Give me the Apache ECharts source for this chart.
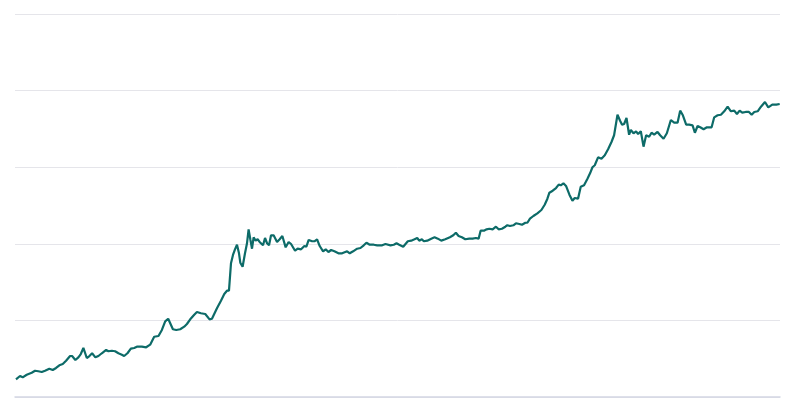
<!DOCTYPE html>
<html>
<head>
<meta charset="utf-8">
<script src="https://cdn.jsdelivr.net/npm/echarts@6/dist/echarts.min.js"></script>
<style>
html,body{margin:0;padding:0;background:#fff;}
#main{width:800px;height:410px;}
</style>
</head>
<body>
<div id="main"></div>
<script>
// time steps (x) and values (y)
var xs = [1,5,7.7,11.7,16.7,20,23.3,26.7,30,34.3,37.7,41,44.3,47.7,51,55,57,60.3,63.3,65.7,
    68.3,71.7,74.3,77,80.3,83.3,86.7,91,93.3,96.7,100,103.3,106.7,109,112.3,115.7,119,121.7,126.7,131,
    135,139,143.3,146.7,150,153,157.7,161,165,169,171.7,175,179,181.7,185.7,190,194.3,196.7,201.7,205.7,
    209,211.7,213.7,215.7,217.7,219.7,221.7,223.7,225,227.3,229.7,231.7,233.3,235,236.7,238.3,240.3,242.3,244.3,245.7,
    247.7,249.7,251.7,253.7,255.7,258.3,261.7,264.3,267,270.3,273.3,275.7,279.7,282.3,285.7,289,291,293.3,296.7,299,
    301.7,304.3,307.7,310.3,313,315.7,319,323,326.7,331.7,334.3,337.7,341.7,345,348.3,351,354.3,358.3,361.7,366.7,
    370,375,378.3,381,383.7,387.7,392.3,395.7,399,401.7,403.7,406.3,408.3,411.7,415.7,419,422.3,425.7,429.7,434.3,
    437.7,440.3,443,446.3,449.7,453.7,457,460.3,463,465,468.3,471,473.7,477,480.3,483,486.3,489.7,491.7,494.3,
    497.7,500.3,503.7,506.3,509.7,511.7,514.3,517.7,521.7,525.7,529,531.7,533.7,537,540.3,543,545,547.7,550.3,553.7,
    556.7,559,562.3,565,568.3,571.7,574.3,576.7,579,582.3,585.7,589,592.3,595.7,598.3,599.7,601.7,604.3,606.3,608.3,
    610.7,613.3,615,617.7,620.3,622.3,625,627.7,630.3,633.3,635.7,638.3,641.7,644.3,647.7,651,655,658.3,661.7,664.3,
    667,670.3,673.3,676.7,679,681.7,684.3,687.7,691,695.7,698.3,701.7,705,708.3,711.7,715,718.3,721,723.7,726.3,
    729.7,733,735.7,738.3,741.7,745,749,752.3,756.3,760.3,763.7];
var ys = [23.1,27.4,25.7,29.1,31.7,34.3,33.6,32.6,34.3,36.9,35.2,37.9,41.4,43.1,47.4,53.5,53.5,48.3,51.8,56.1,
    64.0,50.9,53.5,57.1,51.8,53.5,57.1,61.4,59.7,60.4,59.7,57.1,55.2,53.5,57.1,63.1,64.0,65.7,65.7,64.9,
    68.3,78.7,79.6,87.5,98.8,102.2,88.4,87.5,88.4,91.8,95.3,101.4,107.4,111.0,109.3,108.4,101.4,102.2,115.8,125.7,
    134.5,138.8,138.8,174.5,185.4,192.8,198.8,187.6,175.3,170.1,187.6,200.7,218.9,205.9,193.6,208.5,204.1,205.9,202.4,204.1,
    198.0,207.6,200.7,198.0,211.1,211.1,202.4,205.9,210.2,195.4,202.4,199.7,191.0,193.6,192.8,197.1,196.2,205.0,203.3,203.3,
    205.9,197.1,190.2,192.8,189.3,191.9,190.2,187.6,187.6,190.2,187.6,190.2,193.6,194.5,198.0,201.4,198.8,198.8,198.0,198.0,
    199.7,198.0,198.8,200.7,198.8,196.2,203.3,204.1,205.9,207.6,204.1,205.9,203.3,204.1,206.7,208.5,206.7,204.1,205.9,208.5,
    211.1,214.5,210.2,208.5,205.9,206.7,206.7,207.6,206.7,217.1,217.1,218.9,219.7,218.9,222.3,218.9,219.7,222.3,224.2,223.2,
    224.2,226.8,225.9,224.9,227.5,227.5,232.8,236.3,239.8,244.1,251.0,258.9,266.7,269.3,272.8,277.2,276.4,279.0,275.5,264.1,
    256.3,259.8,258.9,274.5,276.4,285.0,292.0,299.9,302.5,312.9,311.1,315.5,323.4,332.9,341.7,344.3,368.5,360.7,355.5,356.4,
    364.2,342.4,348.6,344.3,346.9,343.3,346.9,326.8,341.7,339.8,345.0,342.4,346.0,341.7,337.2,344.3,361.6,358.1,358.1,373.8,
    367.8,355.5,355.5,354.7,345.0,353.8,352.1,349.5,352.1,352.1,365.1,367.8,368.5,373.0,379.0,373.0,373.8,369.5,373.8,371.2,
    372.1,372.1,368.5,372.1,373.0,379.0,385.1,378.2,381.6,381.6,382.5];
var yTicks = [0,100,200,300,400,500];

var seriesData = [];
for (var i = 0; i < xs.length; i++) {
    seriesData.push([xs[i], ys[i]]);
}

var chart = echarts.init(document.getElementById('main'));
var option = {
    animation: false,
    grid: {left: 15, right: 20, top: 14, bottom: 13, containLabel: false},
    xAxis: {
        type: 'value',
        min: 0,
        max: 764,
        axisLabel: {show: false},
        axisTick: {show: false},
        splitLine: {show: false},
        axisLine: {show: true, lineStyle: {color: '#d3d6e4', width: 1.5}}
    },
    yAxis: {
        type: 'value',
        min: yTicks[0],
        max: yTicks[yTicks.length - 1],
        interval: 100,
        axisLabel: {show: false},
        axisTick: {show: false},
        axisLine: {show: false},
        splitLine: {show: true, lineStyle: {color: '#e5e5ea', width: 1}}
    },
    series: [{
        type: 'line',
        data: seriesData,
        showSymbol: false,
        smooth: false,
        lineStyle: {color: '#0d6b68', width: 2.2}
    }]
};
chart.setOption(option);
</script>
</body>
</html>
